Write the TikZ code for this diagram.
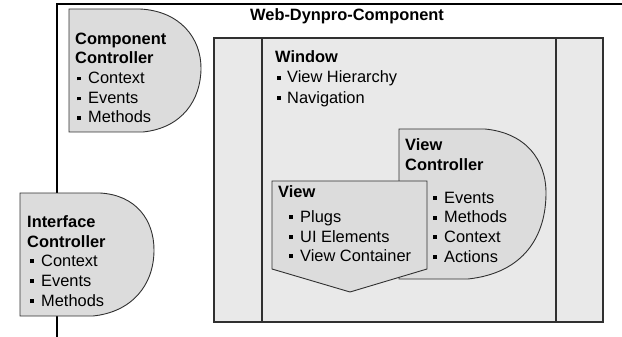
\documentclass[tikz,border=0pt]{standalone}
\usepackage{fontspec}
\setmainfont{Liberation Sans}
\newcommand\bul{\makebox[11pt][l]{\rule[3pt]{3.6pt}{3.6pt}}}
\definecolor{shapefill}{HTML}{DCDCDC}
\definecolor{winfill}{HTML}{E9E9E9}
\definecolor{edge}{HTML}{303030}
\tikzset{
  txt/.style={anchor=base west, inner sep=0pt, font=\fontsize{16.4}{19.7}\selectfont},
  ttl/.style={txt, font=\fontsize{16.4}{19.7}\selectfont\bfseries},
  ctrl/.style={fill=shapefill, draw=edge, line width=0.9pt},
  win/.style={fill=winfill, draw=edge, line width=1.6pt},
}
\begin{document}
\begin{tikzpicture}[x=1pt,y=-1pt]
\useasboundingbox (0,0) rectangle (622,337);
% outer component frame
\draw[line width=1.3pt, black] (57,337) -- (57,4) -- (622,4);
\node[ttl] (wdc) at (250,21) {Web-Dynpro-Component};
% component controller
\draw[ctrl] (69,9) -- (140,9) .. controls (180,11) and (201,38) .. (201,68)
  .. controls (201,100) and (182,128) .. (143,132) -- (69,132) -- cycle;
\node[ttl] (cc1) at (75,45) {Component};
\node[ttl] (cc2) at (75,64) {Controller};
\node[txt] (cc3) at (77,83.5) {\bul Context};
\node[txt] (cc4) at (77,103.5) {\bul Events};
\node[txt] (cc5) at (77,123) {\bul Methods};
% interface controller
\draw[ctrl] (20,193) -- (100,193) .. controls (136,195) and (154,220) .. (154,250)
  .. controls (154,285) and (132,312) .. (93,316) -- (20,316) -- cycle;
\node[ttl] (ic1) at (27,227) {Interface};
\node[ttl] (ic2) at (27,247) {Controller};
\node[txt] (ic3) at (30,266) {\bul Context};
\node[txt] (ic4) at (30,286) {\bul Events};
\node[txt] (ic5) at (30,306) {\bul Methods};
% window
\draw[win] (214,38) rectangle (603,322);
\draw[edge, line width=1.4pt] (262,38) -- (262,322);
\draw[edge, line width=1.4pt] (556,38) -- (556,322);
\node[ttl] (w1) at (275,63) {Window};
\node[txt] (w2) at (277,83) {\makebox[10pt][l]{\rule[3pt]{3.6pt}{3.6pt}}View Hierarchy};
\node[txt] (w3) at (277,103) {\makebox[10pt][l]{\rule[3pt]{3.6pt}{3.6pt}}Navigation};
% view controller
\draw[ctrl] (399,129) -- (485,129) .. controls (526,133) and (546,160) .. (546,193)
  .. controls (546,236) and (524,273) .. (468,279) -- (399,279) -- cycle;
\node[ttl] (vc1) at (405,150) {View};
\node[ttl] (vc2) at (405,170) {Controller};
\node[txt] (vc3) at (433,203) {\bul Events};
\node[txt] (vc4) at (433,222.5) {\bul Methods};
\node[txt] (vc5) at (433,242) {\bul Context};
\node[txt] (vc6) at (433,262) {\bul Actions};
% view
\draw[ctrl] (272,181) -- (427,181) -- (427,269) -- (350,292) -- (272,269) -- cycle;
\node[ttl] (v1) at (278,197) {View};
\node[txt] (v2) at (289,222) {\bul Plugs};
\node[txt] (v3) at (289,242) {\bul UI Elements};
\node[txt] (v4) at (289,261) {\bul View Container};
\end{tikzpicture}
\end{document}
